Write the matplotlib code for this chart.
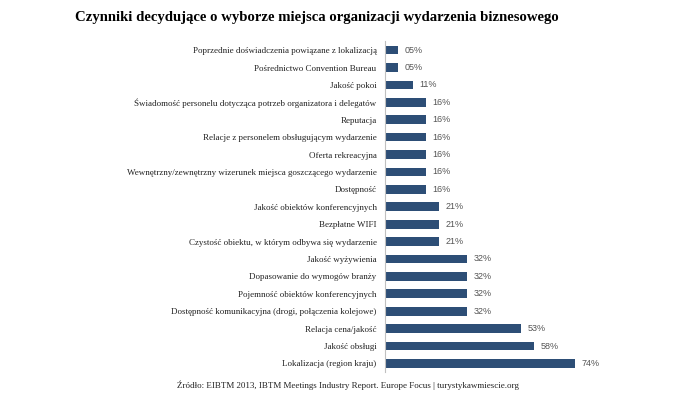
import matplotlib.pyplot as plt

# dane (od góry do dołu)
kategorie = [
    'Poprzednie doświadczenia powiązane z lokalizacją',
    'Pośrednictwo Convention Bureau',
    'Jakość pokoi',
    'Świadomość personelu dotycząca potrzeb organizatora i delegatów',
    'Reputacja',
    'Relacje z personelem obsługującym wydarzenie',
    'Oferta rekreacyjna',
    'Wewnętrzny/zewnętrzny wizerunek miejsca goszczącego wydarzenie',
    'Dostępność',
    'Jakość obiektów konferencyjnych',
    'Bezpłatne WIFI',
    'Czystość obiektu, w którym odbywa się wydarzenie',
    'Jakość wyżywienia',
    'Dopasowanie do wymogów branży',
    'Pojemność obiektów konferencyjnych',
    'Dostępność komunikacyjna (drogi, połączenia kolejowe)',
    'Relacja cena/jakość',
    'Jakość obsługi',
    'Lokalizacja (region kraju)',
]
wartosci = [5, 5, 11, 16, 16, 16, 16, 16, 16, 21, 21, 21, 32, 32, 32, 32, 53, 58, 74]
etykiety = ['05%', '05%', '11%', '16%', '16%', '16%', '16%', '16%', '16%',
            '21%', '21%', '21%', '32%', '32%', '32%', '32%', '53%', '58%', '74%']

fig = plt.figure(figsize=(6.96, 3.98), dpi=100)
ax = fig.add_axes([0.553, 0.065, 0.37, 0.831])

pozycje = list(range(len(kategorie)))
ax.barh(pozycje, wartosci, height=0.5, color='#2d4e76')
ax.set_ylim(len(kategorie) - 0.5, -0.5)
ax.set_xlim(0, 100)

for y, v, t in zip(pozycje, wartosci, etykiety):
    ax.text(v + 2.5, y, t, va='center', ha='left', fontsize=6.5,
            family='Liberation Sans', color='#555555')

ax.set_yticks(pozycje)
ax.set_yticklabels(kategorie, family='Liberation Serif', fontsize=6.5, color='#222222')
ax.tick_params(axis='y', length=0, pad=6)
ax.set_xticks([])
for s in ['top', 'right', 'bottom']:
    ax.spines[s].set_visible(False)
ax.spines['left'].set_color('#c0c0c0')
ax.spines['left'].set_linewidth(0.8)

fig.text(0.108, 0.955, 'Czynniki decydujące o wyborze miejsca organizacji wydarzenia biznesowego',
         family='Liberation Serif', fontsize=10.6, fontweight='bold', va='center', ha='left')
fig.text(0.5, 0.033, 'Źródło: EIBTM 2013, IBTM Meetings Industry Report. Europe Focus | turystykawmiescie.org',
         family='Liberation Serif', fontsize=6.5, va='center', ha='center', color='#222222')

fig.savefig('out.png', dpi=100)
